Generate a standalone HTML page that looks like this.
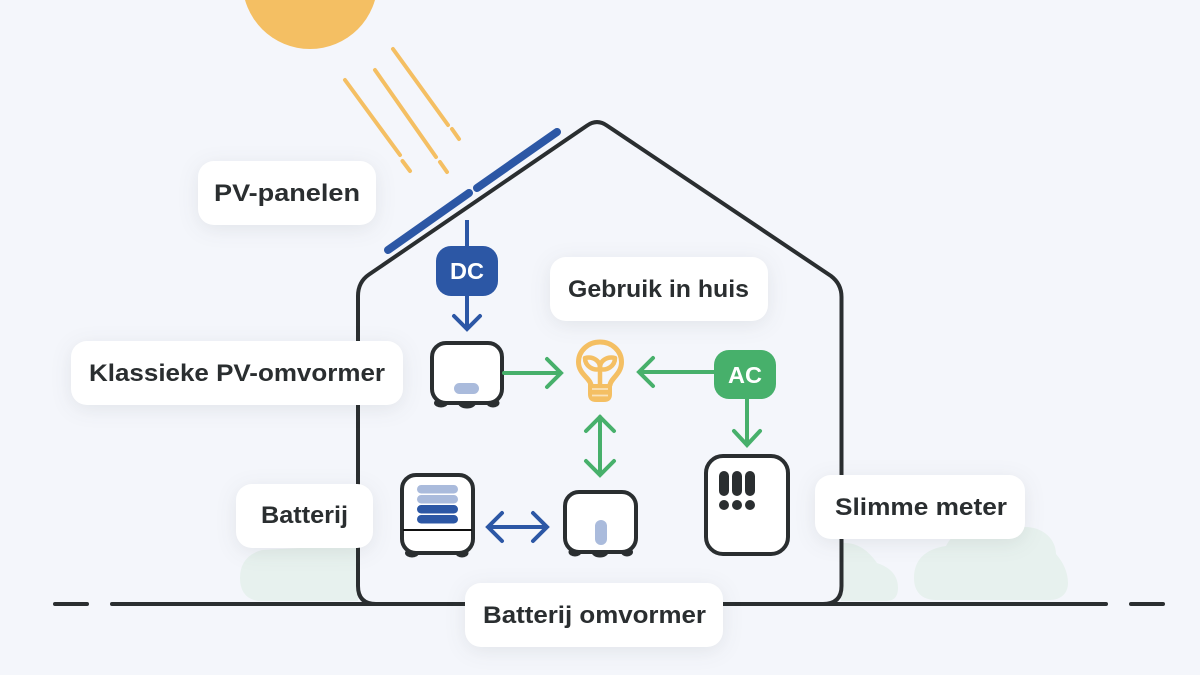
<!DOCTYPE html>
<html lang="nl"><head><meta charset="utf-8"><title>PV-systeem</title>
<style>
html,body{margin:0;padding:0;background:#f4f6fb}
svg{display:block}
text{font-family:"Liberation Sans",sans-serif;font-weight:700;font-size:24px;fill:#2a2e30}
.lab{fill:#fff;filter:drop-shadow(0 4px 10px rgba(40,50,60,.09))}
.ray{stroke:#f4bf63;stroke-width:4;stroke-linecap:round;fill:none}
.g{stroke:#47b06b;stroke-width:4;fill:none;stroke-linecap:round;stroke-linejoin:miter}
.b{stroke:#2c57a5;stroke-width:4;fill:none;stroke-linecap:round;stroke-linejoin:miter}
.d{fill:#2a2e30}
.dev{fill:#fff;stroke:#2a2e30;stroke-width:4}
</style></head><body>
<svg width="1200" height="675" viewBox="0 0 1200 675" xmlns="http://www.w3.org/2000/svg">
<rect width="1200" height="675" fill="#f4f6fb"/>
<!-- clouds -->
<g fill="#e7f1ee">
<path d="M258 601Q240 598 240 578Q240 556 262 550L358 545V601Z"/>
<path d="M841 601V543Q862 541 877 563Q898 570 898 588Q898 601 886 601Z"/>
<path d="M936 600C922 600 914 592 914 578C914 560 925 549 946 546C950 538 960 527 975 527H1025C1044 527 1056 540 1056 554C1063 562 1068 572 1068 583C1068 594 1060 600 1050 600Z"/>
</g>
<!-- sun -->
<circle cx="310" cy="-18.6" r="67.6" fill="#f4bf63"/>
<!-- rays -->
<g class="ray">
<path d="M345 80L400 155M402.500 161L410 171"/>
<path d="M375 70L436 157M440 162L447 172"/>
<path d="M393 49L448 125M452 129L459 139"/>
</g>
<!-- panels -->
<g stroke="#2c57a5" stroke-width="8" stroke-linecap="round" fill="none">
<path d="M388 250L469 193"/>
<path d="M477 188L557 132"/>
</g>
<!-- ground -->
<g stroke="#2a2e30" stroke-width="4" stroke-linecap="round" fill="none">
<path d="M55 604H87"/><path d="M112 604H1106"/><path d="M1131 604H1163"/>
</g>
<!-- house -->
<path d="M376 604Q358 604 358 586V296Q358 282 369 274.500L587 125.600Q597 118.500 607 125.600L831 276Q841.500 284 841.500 297V586Q841.500 604 823 604" fill="none" stroke="#2a2e30" stroke-width="4"/>
<!-- labels -->
<rect class="lab" x="198" y="161" width="178" height="64" rx="16"/>
<rect class="lab" x="71" y="341" width="332" height="64" rx="16"/>
<rect class="lab" x="550" y="257" width="218" height="64" rx="16"/>
<rect class="lab" x="236" y="484" width="137" height="64" rx="16"/>
<rect class="lab" x="465" y="583" width="258" height="64" rx="16"/>
<rect class="lab" x="815" y="475" width="210" height="64" rx="16"/>
<text x="214" y="201" textLength="146" lengthAdjust="spacingAndGlyphs">PV-panelen</text>
<text x="89" y="381" textLength="296" lengthAdjust="spacingAndGlyphs">Klassieke PV-omvormer</text>
<text x="568" y="297" textLength="181" lengthAdjust="spacingAndGlyphs">Gebruik in huis</text>
<text x="261" y="523" textLength="87" lengthAdjust="spacingAndGlyphs">Batterij</text>
<text x="483" y="623" textLength="223" lengthAdjust="spacingAndGlyphs">Batterij omvormer</text>
<text x="835" y="515" textLength="172" lengthAdjust="spacingAndGlyphs">Slimme meter</text>
<!-- DC -->
<path class="b" d="M467 220V328" style="stroke-linecap:butt"/>
<path class="b" d="M454 316L467 329L480 316"/>
<rect x="436" y="246" width="62" height="50" rx="15" fill="#2c57a5"/>
<text x="450" y="279" textLength="34" lengthAdjust="spacingAndGlyphs" style="fill:#fff;font-size:23px">DC</text>
<!-- inverter -->
<g class="d"><ellipse cx="441" cy="403" rx="7" ry="4.500"/><ellipse cx="467" cy="403" rx="9" ry="5.500"/><ellipse cx="493" cy="403" rx="6.500" ry="4.500"/></g>
<rect class="dev" x="432" y="343" width="70" height="60" rx="14"/>
<rect x="454" y="383" width="25" height="11" rx="5.500" fill="#aabbdc"/>
<!-- green arrows -->
<path class="g" d="M504 373H559"/><path class="g" d="M547 359L561 373L547 387"/>
<path class="g" d="M716 372H641"/><path class="g" d="M653 358L639 372L653 386"/>
<path class="g" d="M747 399V443"/><path class="g" d="M734 431L747 445L760 431"/>
<path class="g" d="M600 417V474"/><path class="g" d="M586 431L600 417L614 431"/><path class="g" d="M586 461L600 475L614 461"/>
<rect x="714" y="350" width="62" height="49" rx="15" fill="#47b06b"/>
<text x="728" y="383" textLength="34" lengthAdjust="spacingAndGlyphs" style="fill:#fff;font-size:23px">AC</text>
<!-- bulb -->
<g fill="none" stroke="#f4bf63" stroke-linecap="round" stroke-linejoin="round">
<path stroke-width="5" d="M591 385C590 378 578.500 374 578.500 362C578.500 351 588 342 600 342C612 342 621.500 351 621.500 362C621.500 374 611 378 610 385"/>
<path stroke-width="4.500" d="M600 385V369"/>
<path stroke-width="4.500" d="M600 369C593 371 585 366 585 358C593 356 601 361 600 369Z"/>
<path stroke-width="4.500" d="M600 369C607 371 615 366 615 358C607 356 599 361 600 369Z"/>
</g>
<path d="M588 384H612V394Q612 402 604 402H596Q588 402 588 394Z" fill="#f4bf63"/>
<path d="M592 389H608M592 395.500H608" stroke="#f9e3bb" stroke-width="1.800" fill="none"/>
<!-- battery -->
<g class="d"><ellipse cx="412" cy="553" rx="7" ry="4.500"/><ellipse cx="462" cy="553" rx="6.500" ry="4.500"/></g>
<rect class="dev" x="402" y="475" width="71" height="78" rx="14"/>
<rect x="417" y="485" width="41" height="8.500" rx="4.200" fill="#aabbdc"/>
<rect x="417" y="495" width="41" height="8.500" rx="4.200" fill="#aabbdc"/>
<rect x="417" y="505" width="41" height="8.500" rx="4.200" fill="#2c57a5"/>
<rect x="417" y="515" width="41" height="8.500" rx="4.200" fill="#2c57a5"/>
<path d="M403 530H472" stroke="#111" stroke-width="2"/>
<!-- blue double arrow -->
<path class="b" d="M489 527H546"/><path class="b" d="M502 513L488 527L502 541"/><path class="b" d="M533 513L547 527L533 541"/>
<!-- battery inverter -->
<g class="d"><ellipse cx="575" cy="552" rx="6.500" ry="4.500"/><ellipse cx="600" cy="552" rx="8.500" ry="5.500"/><ellipse cx="627" cy="552" rx="6" ry="4.500"/></g>
<rect class="dev" x="565" y="492" width="71" height="60" rx="14"/>
<rect x="595" y="520" width="12" height="25" rx="6" fill="#aabbdc"/>
<!-- meter -->
<rect class="dev" x="706" y="456" width="82" height="98" rx="17"/>
<g class="d">
<rect x="719" y="471" width="10" height="25" rx="5"/><rect x="732" y="471" width="10" height="25" rx="5"/><rect x="745" y="471" width="10" height="25" rx="5"/>
<circle cx="724" cy="505" r="5"/><circle cx="737" cy="505" r="5"/><circle cx="750" cy="505" r="5"/>
</g>
</svg>
</body></html>
